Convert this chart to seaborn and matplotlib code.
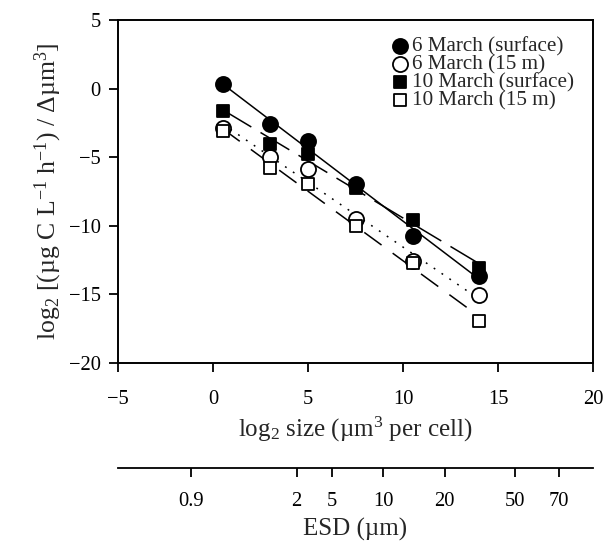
import numpy as np
import pandas as pd
import matplotlib
matplotlib.use("Agg")
import matplotlib.pyplot as plt
import seaborn as sns

# ---- data ----
size_log2 = [0.5, 3.0, 5.0, 7.5, 10.5, 14.0]
mar6_surface = [0.32, -2.6, -3.81, -6.97, -10.71, -13.65]
mar6_15m = [-2.89, -4.95, -5.88, -9.52, -12.55, -15.08]
mar10_surface = [-1.63, -4.05, -4.78, -7.26, -9.57, -13.09]
mar10_15m = [-3.08, -5.80, -6.97, -9.98, -12.72, -16.97]
series_labels = ["6 March (surface)", "6 March (15 m)",
                 "10 March (surface)", "10 March (15 m)"]
x_ticks = [-5, 0, 5, 10, 15, 20]
y_ticks = [5, 0, -5, -10, -15, -20]
esd_labels = ["0.9", "2", "5", "10", "20", "50", "70"]
esd_positions = [-1.16, 4.4, 6.25, 8.96, 12.2, 15.9, 18.2]

sns.set_style("ticks", {"axes.spines.top": True, "axes.spines.right": True})
plt.rcParams["font.family"] = ["Liberation Serif", "DejaVu Serif"]
plt.rcParams["mathtext.fontset"] = "custom"
plt.rcParams["mathtext.rm"] = "Liberation Serif"
plt.rcParams["mathtext.it"] = "Liberation Serif:italic"
plt.rcParams["axes.unicode_minus"] = True

fig = plt.figure(figsize=(6.05, 5.41), dpi=100)
L, R, T, B = 118/605, 593/605, 1 - 20/541, 1 - 363/541
ax = fig.add_axes([L, B, R - L, T - B])

df = pd.DataFrame({"x": size_log2 * 4,
                   "y": mar6_surface + mar6_15m + mar10_surface + mar10_15m,
                   "series": np.repeat(series_labels, len(size_log2))})

styles = [
    dict(marker="o", face="black", s=118, ls="-"),
    dict(marker="o", face="white", s=118, ls=(0, (1.2, 5))),
    dict(marker="s", face="black", s=86, ls=(0, (22, 7))),
    dict(marker="s", face="white", s=86, ls=(0, (14, 9))),
]

for lab, st in zip(series_labels, styles):
    sub = df[df["series"] == lab]
    sns.regplot(data=sub, x="x", y="y", ax=ax, scatter=False, ci=None,
                truncate=True,
                line_kws=dict(color="black", lw=1.1, linestyle=st["ls"], zorder=2))

for lab, st in zip(series_labels, styles):
    sub = df[df["series"] == lab]
    sns.scatterplot(data=sub, x="x", y="y", ax=ax, marker=st["marker"],
                    s=st["s"], color=st["face"], edgecolor="black",
                    linewidth=1.3, label=lab, zorder=3)

ax.set_xlim(-5, 20)
ax.set_ylim(-20, 5)
ax.set_xticks(x_ticks)
ax.set_yticks(y_ticks)
for name, sp in ax.spines.items():
    sp.set_visible(True)
    sp.set_linewidth(1.4)
    sp.set_color("black")
ax.tick_params(axis="both", direction="out", length=6.5, width=1.3,
               labelsize=14.8, colors="black")
ax.tick_params(axis="x", pad=13)
ax.tick_params(axis="y", pad=6)
ax.set_xlabel(r"log$_2$ size (µm$^3$ per cell)", fontsize=18, labelpad=4)
ax.set_ylabel(r"log$_2$ [(µg C L$^{-1}$ h$^{-1}$) / Δµm$^3$]", fontsize=18.5,
              labelpad=3)

ax.legend(loc="upper right", bbox_to_anchor=(0.991, 0.995), frameon=False,
          fontsize=15.2, handletextpad=0.0, labelspacing=-0.08,
          borderaxespad=0.3, handlelength=1.1)

# secondary ESD axis
yb = 1 - 467.7/541
ax2 = fig.add_axes([L, yb, R - L, 0.0001])
ax2.set_xlim(-5, 20)
ax2.set_yticks([])
for k in ["top", "left", "right"]:
    ax2.spines[k].set_visible(False)
ax2.spines["bottom"].set_linewidth(1.3)
ax2.spines["bottom"].set_color("black")
ax2.set_facecolor("none")
ax2.set_xticks(esd_positions)
ax2.set_xticklabels(esd_labels)
ax2.tick_params(axis="x", direction="out", length=6.5, width=1.3,
                labelsize=14.8, pad=11, colors="black")
ax2.set_xlabel("ESD (µm)", fontsize=18, labelpad=5)

fig.savefig("out.png", dpi=100)
